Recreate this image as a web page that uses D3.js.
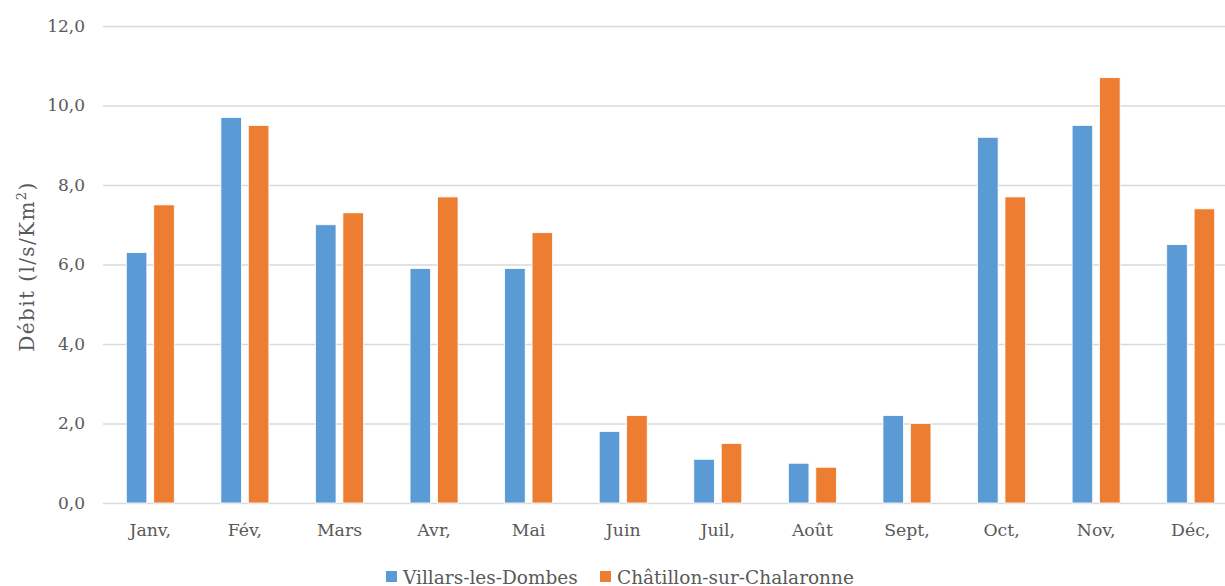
<!DOCTYPE html>
<html>
<head>
<meta charset="utf-8">
<script src="https://cdn.jsdelivr.net/npm/d3@7"></script>
<style>
  body { margin: 0; background: #fff; }
  text { font-family: "DejaVu Serif", serif; fill: #595959; }
</style>
</head>
<body>
<div class="chart"></div>
<script>
const months = ["Janv,", "Fév,", "Mars", "Avr,", "Mai", "Juin", "Juil,", "Août", "Sept,", "Oct,", "Nov,", "Déc,"];
const seriesNames = ["Villars-les-Dombes", "Châtillon-sur-Chalaronne"];
const villars = [6.3, 9.7, 7.0, 5.9, 5.9, 1.8, 1.1, 1.0, 2.2, 9.2, 9.5, 6.5];
const chatillon = [7.5, 9.5, 7.3, 7.7, 6.8, 2.2, 1.5, 0.9, 2.0, 7.7, 10.7, 7.4];
const yTicks = [0, 2, 4, 6, 8, 10, 12];
const colors = ["#5B9BD5", "#ED7D31"];

const w = 1225;
const h = 586;
// plot area runs a bit past the right edge of the picture (it is cropped there)
const pLeft = 103, pRight = 1238, pTop = 26, pBottom = 503;

const svg = d3.select(".chart")
  .append("svg")
  .attr("width", w)
  .attr("height", h);

const xScale = d3.scaleBand()
  .domain(months)
  .range([pLeft, pRight])
  .paddingInner(0.4926)
  .paddingOuter(0.2463);

const xInner = d3.scaleBand()
  .domain(seriesNames)
  .range([0, xScale.bandwidth()])
  .paddingInner(0.25);

const yScale = d3.scaleLinear()
  .domain([0, 12])
  .range([pBottom, pTop]);

const fmt = d => d.toFixed(1).replace(".", ",");

// gridlines + y labels
const yAxis = d3.axisLeft(yScale)
  .tickValues(yTicks)
  .tickSize(-(pRight - pLeft))
  .tickPadding(18)
  .tickFormat(fmt);

svg.append("g")
  .attr("transform", "translate(" + pLeft + ",0)")
  .call(yAxis)
  .call(g => g.select(".domain").remove())
  .call(g => g.selectAll("line").attr("stroke", "#d9d9d9").attr("stroke-width", 1.3))
  .call(g => g.selectAll("text").style("font-size", "17px").attr("fill", "#595959"));

const data = months.map((m, i) => ({ month: m, values: [villars[i], chatillon[i]] }));

const groups = svg.selectAll(".grp")
  .data(data)
  .enter()
  .append("g")
  .attr("class", "grp")
  .attr("transform", d => "translate(" + xScale(d.month) + ",0)");

groups.selectAll("rect")
  .data(d => d.values.map((v, j) => ({ name: seriesNames[j], value: v, j: j })))
  .enter()
  .append("rect")
  .attr("x", d => xInner(d.name))
  .attr("y", d => yScale(d.value))
  .attr("width", xInner.bandwidth())
  .attr("height", d => pBottom - yScale(d.value))
  .attr("fill", d => colors[d.j])
  .attr("stroke", "#fff")
  .attr("stroke-width", 0.8);

// x axis labels
const xAxis = d3.axisBottom(xScale).tickSize(0).tickPadding(21);
svg.append("g")
  .attr("transform", "translate(0," + pBottom + ")")
  .call(xAxis)
  .call(g => g.select(".domain").remove())
  .call(g => g.selectAll("text").style("font-size", "17.3px").attr("fill", "#595959"));

// y axis title
const title = svg.append("text")
  .attr("transform", "translate(34," + ((pTop + pBottom) / 2 + 2) + ") rotate(-90)")
  .attr("text-anchor", "middle")
  .style("font-size", "20px")
  .style("letter-spacing", "1.4px");
title.append("tspan").text("Débit (l/s/Km");
title.append("tspan").attr("dy", -8).style("font-size", "13px").text("2");
title.append("tspan").attr("dy", 8).text(")");

// legend
const legendX = [386, 600];
const legend = svg.selectAll(".leg")
  .data(seriesNames)
  .enter()
  .append("g")
  .attr("class", "leg")
  .attr("transform", (d, i) => "translate(" + legendX[i] + ",571)");

legend.append("rect")
  .attr("width", 11)
  .attr("height", 11)
  .attr("fill", (d, i) => colors[i]);

legend.append("text")
  .attr("x", 17)
  .attr("y", 12.5)
  .style("font-size", "18.5px")
  .text(d => d);
</script>
</body>
</html>
